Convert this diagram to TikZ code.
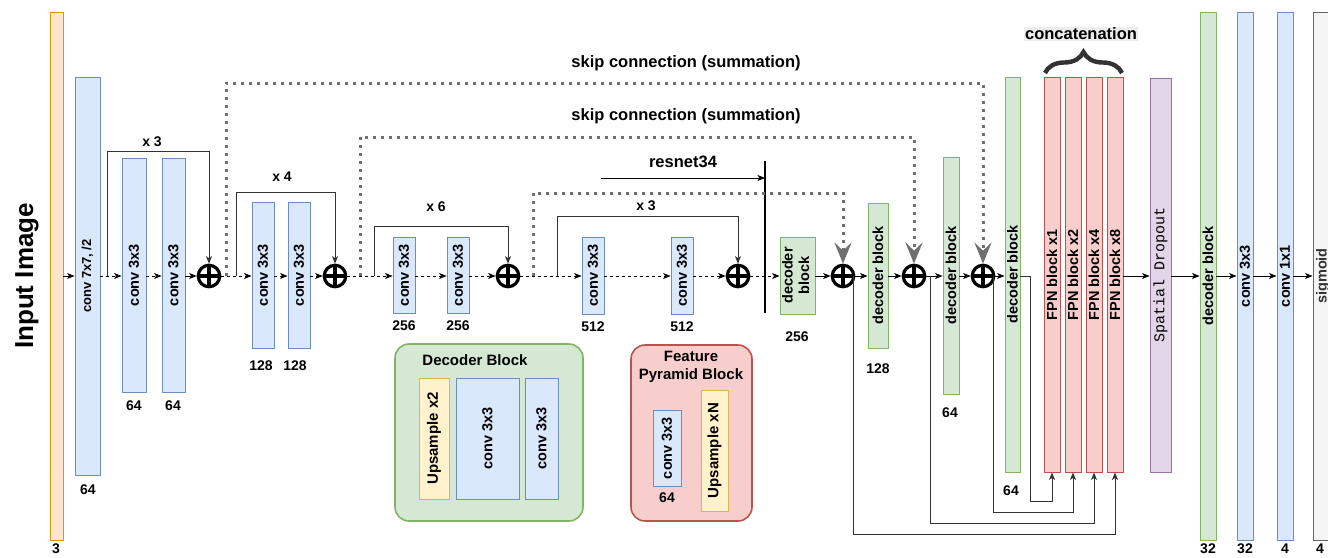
\documentclass[tikz,border=0pt]{standalone}
\usepackage{fontspec}
\setmainfont{Liberation Sans}
\setmonofont{Liberation Mono}
\usepackage{graphicx}
\usetikzlibrary{arrows.meta,decorations.pathreplacing}
\definecolor{bfill}{HTML}{DAE8FC}\definecolor{bdraw}{HTML}{6C8EBF}
\definecolor{gfill}{HTML}{D5E8D4}\definecolor{gdraw}{HTML}{82B366}
\definecolor{rfill}{HTML}{F8CECC}\definecolor{rdraw}{HTML}{B85450}
\definecolor{ofill}{HTML}{FFE6CC}\definecolor{odraw}{HTML}{D79B00}
\definecolor{yfill}{HTML}{FFF2CC}\definecolor{ydraw}{HTML}{D6B656}
\definecolor{pfill}{HTML}{E1D5E7}\definecolor{pdraw}{HTML}{9673A6}
\definecolor{sfill}{HTML}{F5F5F5}\definecolor{sdraw}{HTML}{666666}
\definecolor{skipc}{HTML}{707070}
\definecolor{linec}{HTML}{333333}
\definecolor{hilite}{HTML}{EDEDED}
\newcommand\boxfont{\fontsize{14.5}{16.5}\selectfont\bfseries}
\newcommand\numfont{\fontsize{14}{16}\selectfont\bfseries}
\newcommand\vt[1]{\rotatebox{90}{#1}}
\newcommand\bx[7]{%
  \pgfmathsetmacro\bxw{#4-#2}\pgfmathsetmacro\bxh{#5-#3}%
  \pgfmathsetmacro\bxcx{(#2+#4)/2}\pgfmathsetmacro\bxcy{(#3+#5)/2}%
  \node[#6, minimum width=\bxw pt, minimum height=\bxh pt] (#1) at (\bxcx,\bxcy) {#7};}
\begin{document}
\begin{tikzpicture}[x=1pt,y=-1pt,
  box/.style={draw, line width=0.9pt, inner sep=0pt, font=\boxfont},
  bluebox/.style={box, fill=bfill, draw=bdraw},
  greenbox/.style={box, fill=gfill, draw=gdraw},
  redbox/.style={box, fill=rfill, draw=rdraw},
  orangebox/.style={box, fill=ofill, draw=odraw},
  yellowbox/.style={box, fill=yfill, draw=ydraw},
  purplebox/.style={box, fill=pfill, draw=pdraw},
  greybox/.style={box, fill=sfill, draw=sdraw, text=linec},
  legend/.style={draw, line width=1.6pt, rounded corners=14pt, inner sep=0pt},
  numlbl/.style={font=\numfont, inner sep=0pt},
  title/.style={font=\fontsize{15}{18}\selectfont\bfseries, inner sep=0pt, align=center},
  head/.style={font=\fontsize{16.5}{19}\selectfont\bfseries, inner sep=0pt},
  plus/.style={circle, draw, line width=3.2pt, minimum size=21.5pt, inner sep=0pt, fill=white,
    path picture={\draw[line width=3.2pt] (path picture bounding box.north) -- (path picture bounding box.south)
      (path picture bounding box.west) -- (path picture bounding box.east);}},
  flow/.style={-{Stealth[length=7.5pt,width=6pt,inset=2pt]}, line width=0.8pt},
  dflow/.style={flow, dash pattern=on 3pt off 3pt},
  bracket/.style={-{Stealth[length=7.5pt,width=6pt,inset=2pt]}, line width=0.9pt, draw=linec},
  skip/.style={draw=skipc, line width=3pt, dash pattern=on 3pt off 5pt,
    -{Stealth[length=21pt,width=17pt,inset=8pt,fill=skipc]}},
  feed/.style={-{Stealth[length=7.5pt,width=6pt,inset=2pt]}, line width=1pt, draw=linec}
]
\useasboundingbox (0,0) rectangle (1328,557);
\coordinate (m) at (0,276);

% ---- input ----
\node[font=\fontsize{26}{30}\selectfont\bfseries, rotate=90, inner sep=0pt] (inlbl) at (27,276) {Input Image};
\bx{in}{50}{12}{63}{540}{orangebox}{}
\node[numlbl] (lin) at (56,549) {3};

% ---- encoder ----
\bx{c7}{75}{77}{100}{475}{bluebox}{\fontsize{13}{15}\selectfont\vt{\textbf{conv} 7x7, /2}}
\node[numlbl] (lc7) at (88,490) {64};
\bx{c1}{122}{158}{146}{392}{bluebox}{\vt{conv 3x3}}
\bx{c2}{162}{158}{185}{392}{bluebox}{\vt{conv 3x3}}
\node[numlbl] (lc1) at (134,406) {64};
\node[numlbl] (lc2) at (173,406) {64};
\node[plus] (p1) at (209,276) {};

\bx{c3}{252}{202}{274}{348}{bluebox}{\vt{conv 3x3}}
\bx{c4}{288}{202}{310}{348}{bluebox}{\vt{conv 3x3}}
\node[numlbl] (lc3) at (261,366) {128};
\node[numlbl] (lc4) at (295,366) {128};
\node[plus] (p2) at (335,276) {};

\bx{c5}{393}{237}{415}{313}{bluebox}{\vt{conv 3x3}}
\bx{c6}{447}{237}{469}{313}{bluebox}{\vt{conv 3x3}}
\node[numlbl] (lc5) at (404,326) {256};
\node[numlbl] (lc6) at (458,326) {256};
\node[plus] (p3) at (508,276) {};

\bx{c8}{582}{237}{604}{314}{bluebox}{\vt{conv 3x3}}
\bx{c9}{671}{237}{693}{314}{bluebox}{\vt{conv 3x3}}
\node[numlbl] (lc8) at (593,327) {512};
\node[numlbl] (lc9) at (682,327) {512};
\node[plus] (p4) at (738,276) {};

% ---- resnet34 divider ----
\coordinate (rtop) at (765,161);
\coordinate (rbot) at (765,313);
\draw[line width=2.6pt] (rtop) -- (rbot);
\coordinate (rs) at (601,178);
\draw[flow] (rs) -- (rtop |- rs);
\node[head] (rlbl) at (683,162) {resnet34};

% ---- decoder ----
\bx{d1}{780}{237}{815}{314}{greenbox}{\vt{\begin{tabular}{@{}c@{}}decoder\\block\end{tabular}}}
\node[numlbl] (ld1) at (797,337) {256};
\node[plus] (p5) at (843,276) {};
\bx{d2}{868}{203}{888}{348}{greenbox}{\vt{decoder block}}
\node[numlbl] (ld2) at (878,369) {128};
\node[plus] (p6) at (914,276) {};
\bx{d3}{943}{157}{959}{394}{greenbox}{\vt{decoder block}}
\node[numlbl] (ld3) at (950,413) {64};
\node[plus] (p7) at (983,276) {};
\bx{d4}{1005}{77}{1020}{472}{greenbox}{\vt{decoder block}}
\node[numlbl] (ld4) at (1011,491) {64};

% ---- FPN ----
\bx{f1}{1044}{77}{1060}{472}{redbox}{\vt{FPN block x1}}
\bx{f2}{1065}{77}{1081}{472}{redbox}{\vt{FPN block x2}}
\bx{f3}{1086}{77}{1102}{472}{redbox}{\vt{FPN block x4}}
\bx{f4}{1107}{77}{1123}{472}{redbox}{\vt{FPN block x8}}
\coordinate (brl) at (1045,73);
\coordinate (brr) at (1122,73);
\draw[decorate, decoration={brace, amplitude=21pt, aspect=0.5}, line width=4.4pt, draw=linec] (brl) -- (brr);
\node[head, fill=hilite, inner sep=1pt] (conc) at (1081,34) {concatenation};

\bx{sd}{1150}{78}{1171}{472}{purplebox}{\fontsize{15}{17}\selectfont\mdseries\ttfamily\color{black}\vt{Spatial Dropout}}
\bx{e1}{1200}{12}{1216}{540}{greenbox}{\vt{decoder block}}
\bx{e2}{1237}{12}{1253}{540}{bluebox}{\vt{conv 3x3}}
\bx{e3}{1277}{12}{1293}{540}{bluebox}{\vt{conv 1x1}}
\bx{e4}{1313}{12}{1333}{540}{greybox}{\vt{sigmoid}}
\node[numlbl] (le1) at (1208,549) {32};
\node[numlbl] (le2) at (1245,549) {32};
\node[numlbl] (le3) at (1285,549) {4};
\node[numlbl] (le4) at (1320,549) {4};

% ---- main flow ----
\draw[flow] (in.east |- m) -- (c7.west |- m);
\draw[dflow] (c7.east |- m) -- (c1.west |- m);
\draw[dflow] (c1.east |- m) -- (c2.west |- m);
\draw[flow] (c2.east |- m) -- (p1);
\draw[dflow] (p1) -- (c3.west |- m);
\draw[dflow] (c3.east |- m) -- (c4.west |- m);
\draw[dflow] (c4.east |- m) -- (p2);
\draw[dflow] (p2) -- (c5.west |- m);
\draw[dflow] (c5.east |- m) -- (c6.west |- m);
\draw[dflow] (c6.east |- m) -- (p3);
\draw[dflow] (p3) -- (c8.west |- m);
\draw[dflow] (c8.east |- m) -- (c9.west |- m);
\draw[dflow] (c9.east |- m) -- (p4);
\draw[dflow] (p4) -- (d1.west |- m);
\draw[flow] (d1.east |- m) -- (p5);
\draw[flow] (p5) -- (d2.west |- m);
\draw[flow] (d2.east |- m) -- (p6);
\draw[flow] (p6) -- (d3.west |- m);
\draw[flow] (d3.east |- m) -- (p7);
\draw[flow] (p7) -- (d4.west |- m);
\draw[flow] (f4.east |- m) -- (sd.west |- m);
\draw[flow] (sd.east |- m) -- (e1.west |- m);
\draw[flow] (e1.east |- m) -- (e2.west |- m);
\draw[flow] (e2.east |- m) -- (e3.west |- m);
\draw[flow] (e3.east |- m) -- (e4.west |- m);

% ---- residual brackets ----
\coordinate (k1) at (107,276); \coordinate (k1t) at (107,151);
\draw[bracket] (k1) -- (k1t) -| (p1.north);
\node[numlbl] (x1) at (152,142) {x 3};
\coordinate (k2) at (236,276); \coordinate (k2t) at (236,192);
\draw[bracket] (k2) -- (k2t) -| (p2.north);
\node[numlbl] (x2) at (282,177) {x 4};
\coordinate (k3) at (374,276); \coordinate (k3t) at (374,226);
\draw[bracket] (k3) -- (k3t) -| (p3.north);
\node[numlbl] (x3) at (436,207) {x 6};
\coordinate (k4) at (557,276); \coordinate (k4t) at (557,216);
\draw[bracket] (k4) -- (k4t) -| (p4.north);
\node[numlbl] (x4) at (646,206) {x 3};

% ---- skip connections ----
\coordinate (s1) at (226,276); \coordinate (s1t) at (226,83);
\draw[skip] (s1) -- (s1t) -| (p7.north);
\node[head] (sl1) at (686,63) {skip connection (summation)};
\coordinate (s2) at (360,276); \coordinate (s2t) at (360,137);
\draw[skip] (s2) -- (s2t) -| (p6.north);
\node[head] (sl2) at (686,116) {skip connection (summation)};
\coordinate (s3) at (533,276); \coordinate (s3t) at (533,193);
\draw[skip] (s3) -- (s3t) -| (p5.north);

% ---- feeds to FPN ----
\coordinate (t5) at (853,276); \coordinate (b5) at (853,534);
\draw[feed] (t5) -- (b5) -| (f4.south);
\coordinate (t6) at (930,276); \coordinate (b6) at (930,523);
\draw[feed] (t6) -- (b6) -| (f3.south);
\coordinate (t7) at (993,276); \coordinate (b7) at (993,512);
\draw[feed] (t7) -- (b7) -| (f2.south);
\coordinate (b8) at (1030,501);
\draw[feed] (d4.east |- m) -| (b8) -| (f1.south);

% ---- legend: decoder block ----
\bx{ldb}{395}{344}{583}{521}{legend, fill=gfill, draw=gdraw}{}
\node[title] (ldbt) at (475,360) {Decoder Block};
\bx{lu2}{419}{378}{449}{499}{yellowbox}{\fontsize{15}{17}\selectfont\vt{Upsample x2}}
\bx{lcv1}{456}{378}{519}{499}{bluebox}{\vt{conv 3x3}}
\bx{lcv2}{525}{378}{558}{499}{bluebox}{\vt{conv 3x3}}

% ---- legend: feature pyramid block ----
\bx{lfp}{631}{345}{752}{521}{legend, fill=rfill, draw=rdraw}{}
\node[title] (lfpt) at (691,367) {Feature\\Pyramid Block};
\bx{lfc}{653}{410}{681}{486}{bluebox}{\vt{conv 3x3}}
\node[numlbl] (lfcn) at (667,498) {64};
\bx{lfu}{701}{390}{728}{511}{yellowbox}{\fontsize{15}{17}\selectfont\vt{Upsample xN}}
\end{tikzpicture}
\end{document}
